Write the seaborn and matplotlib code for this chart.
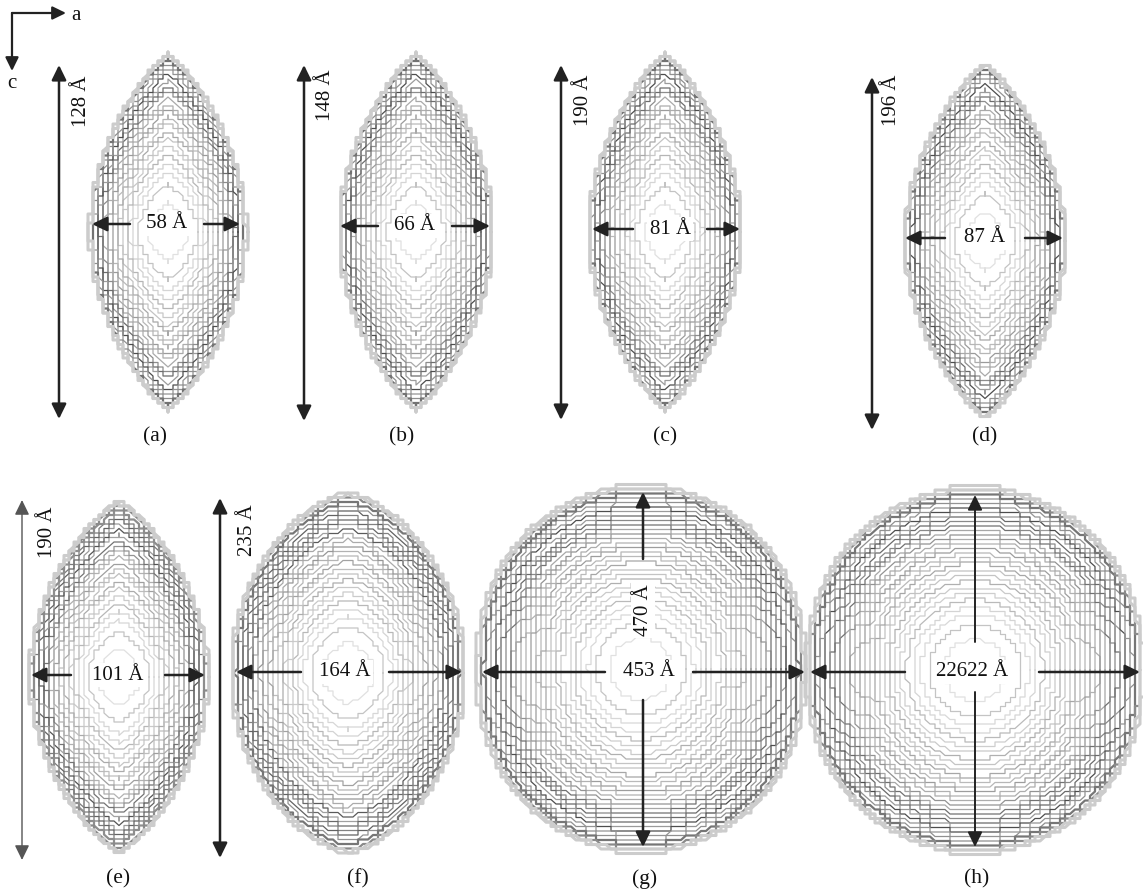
import numpy as np
import pandas as pd
import matplotlib
matplotlib.use("Agg")
import matplotlib.pyplot as plt
import seaborn as sns

# ---------------- data (labels) ----------------
panel_labels = ["(a)", "(b)", "(c)", "(d)", "(e)", "(f)", "(g)", "(h)"]
width_labels = ["58 Å", "66 Å", "81 Å", "87 Å", "101 Å", "164 Å", "453 Å", "22622 Å"]
height_labels = ["128 Å", "148 Å", "190 Å", "196 Å", "190 Å", "235 Å", "470 Å", ""]

# ---------------- layout (pixel space of the 1143x890 canvas) ----------------
cx = [168, 416, 665, 985, 119, 348, 641, 975]
cy = [232, 232, 232, 241, 677, 673, 669, 670]
half_w = [77, 76, 75, 79, 88, 115, 161, 165]
half_h = [174, 174, 174, 173, 172, 176, 179, 178]
p_exp = [1.9, 1.9, 1.9, 1.9, 1.9, 2.0, 2.2, 2.2]
q_exp = [0.85, 0.85, 0.85, 0.85, 0.8, 0.65, 0.5, 0.5]
w_pow = [0.75, 0.75, 0.75, 0.75, 0.8, 0.85, 0.95, 0.95]
flat_cap = [1.0, 1.0, 1.0, 1.0, 1.0, 1.0, 0.99, 0.99]
n_levels = [20, 20, 20, 20, 22, 24, 27, 27]

v_x = [59, 304, 561, 872, 22, 220, 643, 975]
v_y0 = [65, 65, 65, 77, 500, 498, 492, 495]
v_y1 = [419, 421, 420, 430, 860, 858, 847, 847]
v_gap0 = [None] * 6 + [559, 642]
v_gap1 = [None] * 6 + [700, 692]
v_lw = [1.8, 1.8, 1.8, 1.8, 1.0, 1.8, 1.8, 1.4]
v_col = ["#222222"] * 4 + ["#555555", "#222222", "#222222", "#222222"]

h_y = [224, 226, 229, 238, 675, 672, 672, 672]
h_x0 = [92, 340, 592, 905, 31, 236, 482, 810]
h_x1 = [240, 490, 740, 1063, 205, 462, 805, 1140]
wl_x = [167, 415, 670, 985, 118, 345, 649, 972]
h_gap = [37, 37, 37, 40, 47, 44, 44, 67]

hl_x = [81, 326, 584, 892, 47, 247, 643, 0]
hl_y = [101, 95, 100, 100, 532, 530, 610, 0]

pl_x = [155, 402, 665, 985, 118, 358, 645, 977]
pl_y = [437, 437, 437, 437, 879, 879, 879, 879]


def contour_path(cx0, cy0, W0, H0, p, q, s, wp, cap, gx=5.0, gy=4.5):
    W, H = W0 * s ** wp, H0 * s
    ys = np.linspace(-H, H, 600)
    u = np.minimum(np.abs(ys) / H, cap)
    xs = W * np.clip(1 - u ** p, 0, 1) ** q
    # closed outline starting at the right equator
    px = np.concatenate([xs, -xs[::-1]])
    py = np.concatenate([ys, ys[::-1]])
    px = np.roll(px, -300)
    py = np.roll(py, -300)
    px = np.append(px, px[0])
    py = np.append(py, py[0])
    # resample by arclength, then snap to a coarse grid -> jagged look
    seg = np.hypot(np.diff(px), np.diff(py))
    L = np.concatenate([[0], np.cumsum(seg)])
    tt = np.append(np.arange(0, L[-1], 1.5), L[-1])
    rx = np.interp(tt, L, px)
    ry = np.interp(tt, L, py)
    qx = np.round(rx / gx) * gx
    qy = np.round(ry / gy) * gy
    keep = np.ones(len(qx), bool)
    keep[1:] = (np.diff(qx) != 0) | (np.diff(qy) != 0)
    return cx0 + qx[keep], cy0 + qy[keep]


sns.set_theme(style="white")
plt.rcParams["font.family"] = ["Liberation Serif", "DejaVu Serif"]

fig = plt.figure(figsize=(11.43, 8.90), dpi=100)
ax = fig.add_axes([0, 0, 1, 1])

frames, palette, sizes = [], {}, {}
for i in range(8):
    N = n_levels[i]
    t = np.linspace(0, 1, N)
    levels = list(0.17 + 0.83 * t ** 0.7) + [1.012, 1.024]
    for k, s in enumerate(levels):
        x, y = contour_path(cx[i], cy[i], half_w[i], half_h[i], p_exp[i], q_exp[i],
                            s, w_pow[i], flat_cap[i])
        name = f"{i}-{k:02d}"
        frames.append(pd.DataFrame({"x": x, "y": y, "contour": name}))
        if s > 1.0:
            g, lw = 0.80, 2.2
        else:
            g = 0.90 - 0.36 * s ** 1.6
            if k % 3 == 1:
                g -= 0.09
            if 0.78 < s < 0.95 and k % 2 == 0:
                g -= 0.2
            g = min(max(g, 0.2), 0.9)
            lw = 0.9 if s < 0.97 else 1.6
        palette[name] = (g, g, g)
        sizes[name] = lw

df = pd.concat(frames, ignore_index=True)
sns.lineplot(data=df, x="x", y="y", hue="contour", size="contour",
             palette=palette, sizes=sizes, estimator=None, sort=False,
             legend=False, ax=ax, zorder=1)

head = "-|>,head_length=0.45,head_width=0.22"


def arrow(x0, y0, x1, y1, color="#222222", lw=1.8):
    ax.annotate("", xy=(x1, y1), xytext=(x0, y0),
                arrowprops=dict(arrowstyle=head, color=color, lw=lw, shrinkA=0,
                                shrinkB=0, mutation_scale=20), zorder=3)


fs = 15
for i in range(8):
    if v_gap0[i] is None:
        ax.annotate("", xy=(v_x[i], v_y0[i]), xytext=(v_x[i], v_y1[i]),
                    arrowprops=dict(arrowstyle="<|-|>,head_length=0.45,head_width=0.22",
                                    color=v_col[i], lw=v_lw[i], shrinkA=0, shrinkB=0,
                                    mutation_scale=20), zorder=3)
    else:
        arrow(v_x[i], v_gap0[i], v_x[i], v_y0[i], v_col[i], v_lw[i])
        arrow(v_x[i], v_gap1[i], v_x[i], v_y1[i], v_col[i], v_lw[i])
    arrow(wl_x[i] - h_gap[i], h_y[i], h_x0[i], h_y[i])
    arrow(wl_x[i] + h_gap[i], h_y[i], h_x1[i], h_y[i])
    ax.text(wl_x[i], h_y[i], width_labels[i], ha="center", va="center",
            fontsize=fs, color="#111111", zorder=5,
            bbox=dict(boxstyle="square,pad=0.12", fc="white", ec="none"))
    if height_labels[i]:
        ax.text(hl_x[i], hl_y[i], height_labels[i], ha="center", va="center",
                rotation=90, fontsize=fs, color="#111111", zorder=4,
                bbox=dict(boxstyle="square,pad=0.12", fc="white", ec="none"))
    ax.text(pl_x[i], pl_y[i], panel_labels[i], ha="center", va="center",
            fontsize=15.5, color="#111111")

# orientation indicator
ax.annotate("", xy=(66, 13), xytext=(12, 13),
            arrowprops=dict(arrowstyle=head, color="#222222", lw=1.6,
                            shrinkA=0, shrinkB=0, mutation_scale=18))
ax.annotate("", xy=(12, 71), xytext=(12, 13),
            arrowprops=dict(arrowstyle=head, color="#222222", lw=1.6,
                            shrinkA=0, shrinkB=0, mutation_scale=18))
ax.text(71, 15, "a", ha="left", va="center", fontsize=15, color="#111111")
ax.text(12, 84, "c", ha="center", va="center", fontsize=15, color="#111111")

ax.set_xlim(0, 1143)
ax.set_ylim(890, 0)
ax.axis("off")
fig.savefig("out.png", dpi=100, facecolor="white")
